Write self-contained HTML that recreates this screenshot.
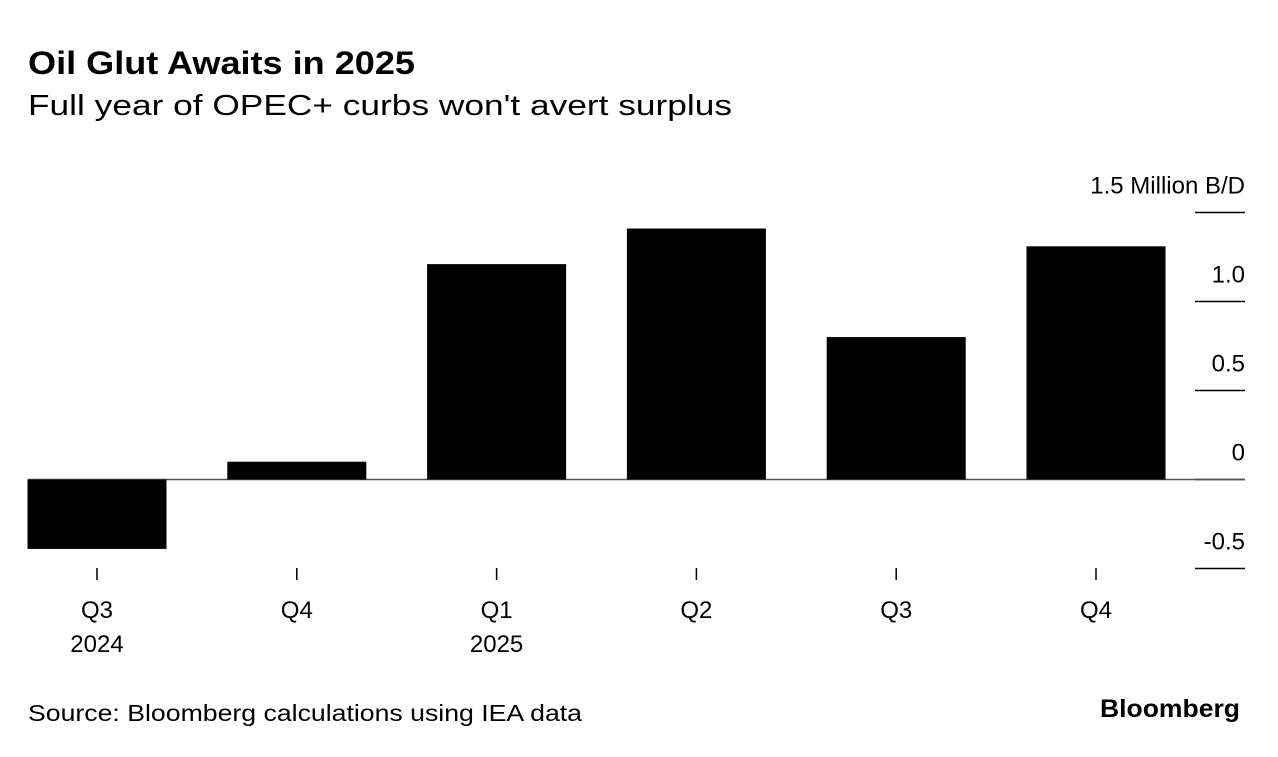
<!DOCTYPE html>
<html><head><meta charset="utf-8"><style>
body{margin:0;background:#fff;font-family:"Liberation Sans",sans-serif;}
</style></head><body>
<svg width="1278" height="752" xmlns="http://www.w3.org/2000/svg" font-family="Liberation Sans, sans-serif">
<text x="28" y="74" font-size="32" font-weight="bold" textLength="387" lengthAdjust="spacingAndGlyphs">Oil Glut Awaits in 2025</text>
<text x="28" y="115" font-size="29" textLength="704" lengthAdjust="spacingAndGlyphs">Full year of OPEC+ curbs won't avert surplus</text>
<g id="axis"></g>
<g id="bars"></g>
<g id="xlabels"></g>
<text x="28" y="721" font-size="23" textLength="554" lengthAdjust="spacingAndGlyphs">Source: Bloomberg calculations using IEA data</text>
<text x="1240" y="717" font-size="25" font-weight="bold" text-anchor="end" textLength="140" lengthAdjust="spacingAndGlyphs">Bloomberg</text>
</svg>
<script>
const categories=["Q3","Q4","Q1","Q2","Q3","Q4"];
const years=["2024","","2025","","",""];
const values=[-0.39,0.10,1.21,1.41,0.80,1.31];
const ticks=[-0.5,0,0.5,1.0,1.5];
const tickLabels=["-0.5","0","0.5","1.0","1.5 Million B/D"];
const NS="http://www.w3.org/2000/svg";
const y0=479.5, k=178;
const y=v=>y0-v*k;
const x=i=>97+i*199.8;
const bw=139;
function mk(t,a,p){const e=document.createElementNS(NS,t);for(const n in a)e.setAttribute(n,a[n]);p.appendChild(e);return e;}
const ax=document.getElementById('axis'),bars=document.getElementById('bars'),xl=document.getElementById('xlabels');
ticks.forEach((t,i)=>{
 const l=mk('line',{x1:1195,x2:1245,y1:y(t),y2:y(t),stroke:'#000','stroke-width':1.5},ax);
 
 
 const tx=mk('text',{x:1245,y:y(t)-19,'font-size':24,'text-anchor':'end'},ax);
 tx.textContent=tickLabels[i];
 
 
});
values.forEach((v,i)=>{
 const r=mk('rect',{x:x(i)-bw/2,y:Math.min(y(v),y0),width:bw,height:Math.abs(y(v)-y0),fill:'#000'},bars);
 
 
 const tk=mk('line',{x1:x(i),x2:x(i),y1:568,y2:580,stroke:'#000','stroke-width':1.5},xl);
 
 
 const t=mk('text',{x:x(i),y:618,'font-size':24,'text-anchor':'middle'},xl);
 t.textContent=categories[i];
 
 
 if(years[i]){const t2=mk('text',{x:x(i),y:652,'font-size':24,'text-anchor':'middle'},xl);t2.textContent=years[i];
 
 }
});
const z=mk('line',{x1:28,x2:1245,y1:y0,y2:y0,stroke:'#555','stroke-width':1.5},ax);


</script>
</body></html>
